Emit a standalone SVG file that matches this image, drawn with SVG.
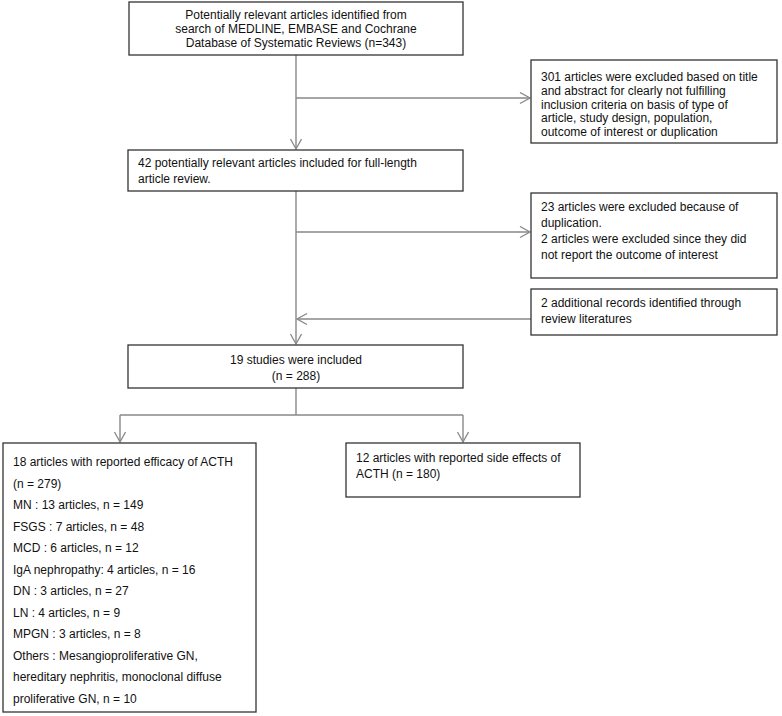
<svg xmlns="http://www.w3.org/2000/svg" width="782" height="716" viewBox="0 0 782 716">
<style>
.box{fill:#fff;stroke:#333;stroke-width:1.3}
.t{font-family:"Liberation Sans",Arial,sans-serif;font-size:12px;fill:#111}
.c{text-anchor:middle}
.ln{fill:none;stroke:#888;stroke-width:1.4}
</style>
<defs>
<marker id="ar" markerUnits="userSpaceOnUse" markerWidth="14" markerHeight="14" refX="11" refY="6" orient="auto">
<path d="M1,0.5 L11,6 L1,11.5" fill="none" stroke="#888" stroke-width="1.3"/>
</marker>
</defs>
<rect width="782" height="716" fill="#fff"/>
<g id="connectors">
<line class="ln" x1="296" y1="55" x2="296" y2="149" marker-end="url(#ar)"/>
<line class="ln" x1="296" y1="98" x2="530" y2="98" marker-end="url(#ar)"/>
<line class="ln" x1="296" y1="191" x2="296" y2="344" marker-end="url(#ar)"/>
<line class="ln" x1="296" y1="232" x2="530" y2="232" marker-end="url(#ar)"/>
<line class="ln" x1="531" y1="319" x2="297" y2="319" marker-end="url(#ar)"/>
<polyline class="ln" points="296,388 296,415"/>
<polyline class="ln" points="120,415 463,415"/>
<line class="ln" x1="120" y1="415" x2="120" y2="442" marker-end="url(#ar)"/>
<line class="ln" x1="463" y1="415" x2="463" y2="442" marker-end="url(#ar)"/>
</g>
<g id="search">
<rect class="box" x="129" y="2" width="334" height="53"/>
<text class="t c" x="296" y="19">Potentially relevant articles identified from</text>
<text class="t c" x="296" y="33">search of MEDLINE, EMBASE and Cochrane</text>
<text class="t c" x="296" y="47">Database of Systematic Reviews (n=343)</text>
</g>
<g id="excluded1">
<rect class="box" x="531" y="60" width="246" height="83"/>
<text class="t" x="541" y="81">301 articles were excluded based on title</text>
<text class="t" x="541" y="94.75">and abstract for clearly not fulfilling</text>
<text class="t" x="541" y="108.5">inclusion criteria on basis of type of</text>
<text class="t" x="541" y="122.25">article, study design, population,</text>
<text class="t" x="541" y="136">outcome of interest or duplication</text>
</g>
<g id="fulltext">
<rect class="box" x="128" y="150" width="335" height="41"/>
<text class="t" x="138" y="167">42 potentially relevant articles included for full-length</text>
<text class="t" x="138" y="183">article review.</text>
</g>
<g id="excluded2">
<rect class="box" x="531" y="193" width="246" height="85"/>
<text class="t" x="541" y="211">23 articles were excluded because of</text>
<text class="t" x="541" y="227">duplication.</text>
<text class="t" x="541" y="243">2 articles were excluded since they did</text>
<text class="t" x="541" y="259">not report the outcome of interest</text>
</g>
<g id="additional">
<rect class="box" x="531" y="289" width="246" height="46"/>
<text class="t" x="541" y="307">2 additional records identified through</text>
<text class="t" x="541" y="323">review literatures</text>
</g>
<g id="included">
<rect class="box" x="128" y="345" width="335" height="43"/>
<text class="t c" x="296" y="364">19 studies were included</text>
<text class="t c" x="296" y="380">(n = 288)</text>
</g>
<g id="efficacy">
<rect class="box" x="3" y="443" width="253" height="269"/>
<text class="t" x="13" y="466">18 articles with reported efficacy of ACTH</text>
<text class="t" x="13" y="487.5">(n = 279)</text>
<text class="t" x="13" y="509">MN : 13 articles, n = 149</text>
<text class="t" x="13" y="530.5">FSGS : 7 articles, n = 48</text>
<text class="t" x="13" y="552">MCD : 6 articles, n = 12</text>
<text class="t" x="13" y="573.5">IgA nephropathy: 4 articles, n = 16</text>
<text class="t" x="13" y="595">DN : 3 articles, n = 27</text>
<text class="t" x="13" y="616.5">LN : 4 articles, n = 9</text>
<text class="t" x="13" y="638">MPGN : 3 articles, n = 8</text>
<text class="t" x="13" y="659.5">Others : Mesangioproliferative GN,</text>
<text class="t" x="13" y="681">hereditary nephritis, monoclonal diffuse</text>
<text class="t" x="13" y="702.5">proliferative GN, n = 10</text>
</g>
<g id="sideeffects">
<rect class="box" x="346" y="443" width="234" height="54"/>
<text class="t" x="356" y="462">12 articles with reported side effects of</text>
<text class="t" x="356" y="478">ACTH (n = 180)</text>
</g>
</svg>
